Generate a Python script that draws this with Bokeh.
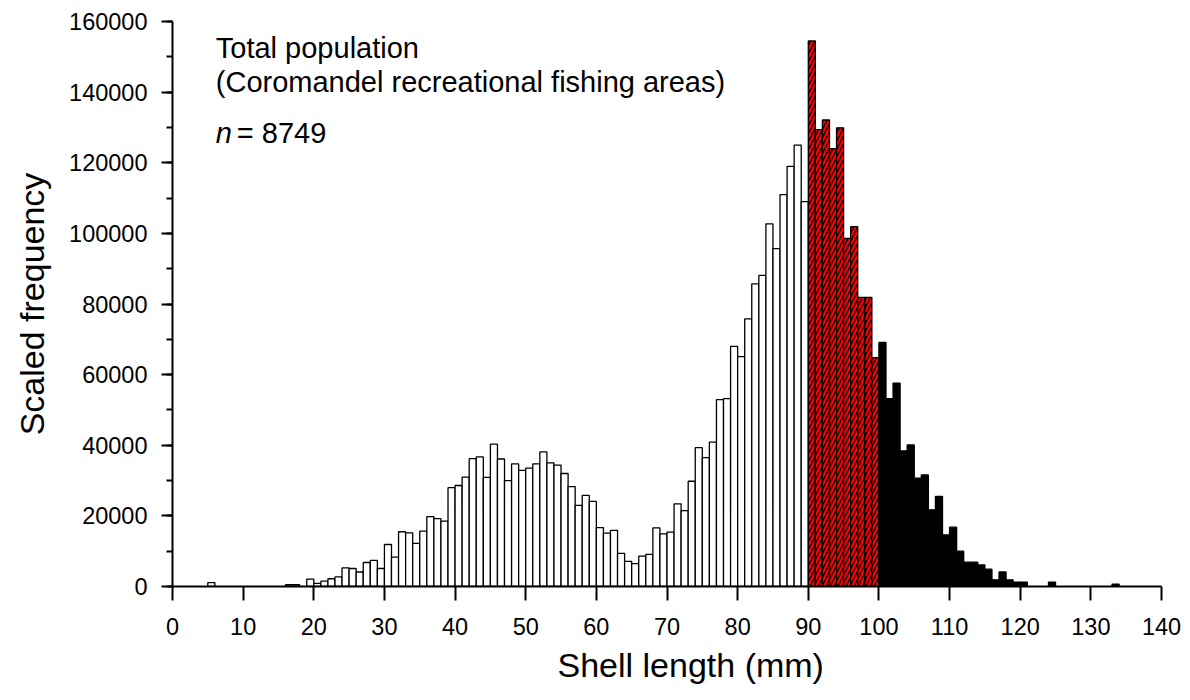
from bokeh.plotting import figure
from bokeh.models import Range1d, SingleIntervalTicker, BasicTickFormatter, Label, Title, ColumnDataSource
from bokeh.embed import file_html
from bokeh.resources import INLINE

# ---- data (bin left edge in mm, scaled frequency) ----
lengths = list(range(0, 135))
freq = [
    0, 0, 0, 0, 0, 1100, 0, 0, 0, 0,                       # 0-9
    0, 0, 0, 0, 0, 0, 500, 500, 0, 2100,                   # 10-19
    900, 1500, 2200, 2700, 5300, 5100, 4100, 6800, 7400, 5100,   # 20-29
    11900, 8300, 15500, 15200, 12200, 15700, 19800, 19200, 18500, 28000,  # 30-39
    28600, 31000, 36200, 36700, 30900, 40300, 36100, 30000, 34700, 32900,  # 40-49
    33500, 34700, 38100, 35000, 34400, 32000, 28300, 23000, 25800, 24100,  # 50-59
    16700, 15100, 15900, 9400, 7100, 6500, 8600, 9100, 16600, 14900,       # 60-69
    15400, 23400, 21500, 29800, 39300, 36500, 40900, 52900, 53200, 68000,  # 70-79
    65100, 75800, 85700, 88100, 102700, 95700, 111000, 119000, 125000, 109000,  # 80-89
    154500, 129400, 132100, 124000, 129900, 98600, 101900, 81900, 81900, 64800,  # 90-99
    69100, 53200, 57600, 38400, 40100, 30700, 31600, 21700, 25500, 14600,  # 100-109
    16800, 10000, 6900, 6900, 6100, 4900, 1900, 4100, 1900, 1250,         # 110-119
    1250, 0, 0, 0, 1250, 0, 0, 0, 0, 0,                                   # 120-129
    0, 0, 0, 700, 0,                                                      # 130-134
]
x_ticks_interval = 10
y_ticks_interval = 20000
title_line1 = "Total population"
title_line2 = "(Coromandel recreational fishing areas)"
n_label = "n"
n_value = "= 8749"
x_title = "Shell length (mm)"
y_title = "Scaled frequency"

FONT = "Liberation Sans"

p = figure(width=1181, height=691, output_backend="svg", toolbar_location=None,
           x_range=Range1d(0, 140), y_range=Range1d(0, 160000),
           min_border_left=172, min_border_right=20, min_border_top=21, min_border_bottom=105)
p.outline_line_color = None
p.xgrid.visible = False
p.ygrid.visible = False
p.background_fill_color = "white"
p.border_fill_color = "white"


def group(cond):
    l, r, t = [], [], []
    for x, v in zip(lengths, freq):
        if v > 0 and cond(x):
            l.append(x)
            r.append(x + 1)
            t.append(v)
    return ColumnDataSource(dict(left=l, right=r, top=t, bottom=[0] * len(l)))


src_white = group(lambda x: x < 90)
src_red = group(lambda x: 90 <= x < 100)
src_black = group(lambda x: x >= 100)

p.quad(left="left", right="right", top="top", bottom="bottom", source=src_white,
       fill_color="white", line_color="black", line_width=1.3)
p.quad(left="left", right="right", top="top", bottom="bottom", source=src_red,
       fill_color="#ff0000", line_color="black", line_width=1.3,
       hatch_pattern="/", hatch_color="black", hatch_scale=8, hatch_weight=1.3)
p.quad(left="left", right="right", top="top", bottom="bottom", source=src_black,
       fill_color="black", line_color="black", line_width=1.3)

# axes
xa = p.xaxis[0]
xa.ticker = SingleIntervalTicker(interval=x_ticks_interval, num_minor_ticks=0)
xa.axis_line_width = 2
xa.major_tick_line_width = 2
xa.major_tick_out = 14
xa.major_tick_in = 0
xa.minor_tick_line_color = None
xa.major_label_text_font = FONT
xa.major_label_text_font_size = "23.5px"
xa.major_label_text_color = "black"
xa.major_label_standoff = 17

ya = p.yaxis[0]
ya.ticker = SingleIntervalTicker(interval=y_ticks_interval, num_minor_ticks=2)
ya.formatter = BasicTickFormatter(use_scientific=False)
ya.axis_line_width = 2
ya.major_tick_line_width = 2
ya.major_tick_out = 11
ya.major_tick_in = 0
ya.minor_tick_line_width = 2
ya.minor_tick_out = 6
ya.minor_tick_in = 0
ya.major_label_text_font = FONT
ya.major_label_text_font_size = "23.5px"
ya.major_label_text_color = "black"
ya.major_label_standoff = 14
ya.axis_label = y_title
ya.axis_label_text_font = FONT
ya.axis_label_text_font_size = "34px"
ya.axis_label_text_font_style = "normal"
ya.axis_label_text_color = "black"
ya.axis_label_standoff = 15

# x-axis title as a Title below the axis (left-aligned with offset to match reference)
p.add_layout(Title(text=x_title, align="left", offset=385, text_font=FONT, text_font_size="34px",
                   text_font_style="normal", text_color="black", standoff=12), "below")

# annotations
common = dict(text_font=FONT, text_font_size="29px", text_color="black", text_baseline="alphabetic")
p.add_layout(Label(x=6.13, y=152500, text=title_line1, **common))
p.add_layout(Label(x=6.13, y=142900, text=title_line2, **common))
p.add_layout(Label(x=6.13, y=128400, text=n_label, text_font_style="italic", **common))
p.add_layout(Label(x=9.11, y=128400, text=n_value, **common))

open("out.html", "w").write(file_html(p, INLINE))
